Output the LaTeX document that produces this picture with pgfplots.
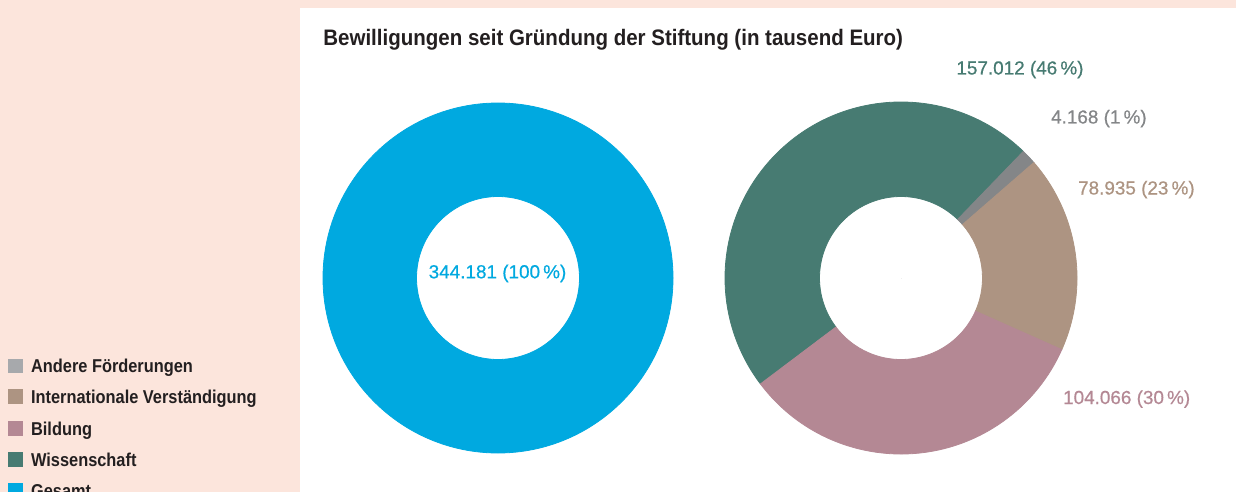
\documentclass[border=0pt]{standalone}
\usepackage{pgfplots}
\pgfplotsset{compat=1.18}
\usepackage{pgfplotstable}
\usepackage{fontspec}
\setmainfont{Liberation Sans}
\newfontfamily\titlefont[FakeStretch=0.915]{Liberation Sans}
\newfontfamily\legfont[FakeStretch=0.88]{Liberation Sans}
\newfontfamily\labfont[FakeBold=0.5]{Liberation Sans}
\definecolor{peach}{HTML}{FCE5DC}
\definecolor{gesamt}{HTML}{00A9E0}
\definecolor{wiss}{HTML}{477B72}
\definecolor{bild}{HTML}{B48894}
\definecolor{intl}{HTML}{AD9482}
\definecolor{andere}{HTML}{848688}
\definecolor{anderelg}{HTML}{A7A9AC}
\definecolor{txt}{HTML}{231F20}

% x y: pixel position of the donut centre; start/end: angles as drawn;
% value: thousand euro; c: colour index (0 Gesamt, 1 Wissenschaft, 2 Andere, 3 Internationale, 4 Bildung)
\pgfplotstableread{
x y start end value c
498 278 0 360 344181 0
}\leftdonut
\pgfplotstableread{
x y start end value c
901 278 46 217 157012 1
901 278 41 46 4168 2
901 278 -24 41 78935 3
901 278 217 336 104066 4
}\rightdonut

\pgfplotsset{donut/.style={
  scatter, only marks, mark=*, mark size=0pt,
  mark options={draw=none,fill=none},
  visualization depends on={\thisrow{start} \as \sa},
  visualization depends on={\thisrow{end} \as \ea},
  visualization depends on={\thisrow{c} \as \ci},
  scatter/@pre marker code/.code={%
    \pgfmathtruncatemacro\cii{\ci}%
    \ifcase\cii \def\sc{gesamt}\or \def\sc{wiss}\or \def\sc{andere}\or \def\sc{intl}\or \def\sc{bild}\fi
    \fill[\sc] (\sa:#1) arc[start angle=\sa, end angle=\ea, radius=#1]
      -- (\ea:40.75pt) arc[start angle=\ea, end angle=\sa, radius=40.75pt] -- cycle;},
  scatter/@post marker code/.code={},
}}
\newcommand\legrow[3]{%
  \fill[#2] (axis cs:8,#3-14) rectangle (axis cs:22.5,#3+0.5);
  \node[anchor=base west, inner sep=0, text=txt, font=\legfont\bfseries\fontsize{9.3}{11}\selectfont] at (axis cs:30.7,#3) {#1};
}
\tikzset{lab/.style={anchor=base west, inner sep=0, font=\labfont\fontsize{9.45}{11}\selectfont}}

\begin{document}
\begin{tikzpicture}
\begin{axis}[
  at={(0,0)}, anchor=south west,
  width=618pt, height=246pt, scale only axis,
  xmin=0, xmax=1236, ymin=0, ymax=492, y dir=reverse,
  hide axis, clip=false,
]
\fill[peach] (axis cs:0,0) rectangle (axis cs:1236,492);
\fill[white] (axis cs:300,8) rectangle (axis cs:1236,492);

\addplot[donut=87.5pt] table[x=x, y=y] \leftdonut;
\addplot[donut=88pt] table[x=x, y=y] \rightdonut;

\node[anchor=base west, inner sep=0, text=txt, font=\titlefont\bfseries\fontsize{11.2}{13}\selectfont]
  at (axis cs:323,46) {Bewilligungen seit Gründung der Stiftung (in tausend Euro)};

\node[lab, text=gesamt] at (axis cs:428.3,278.3) {344.181 (100\,\%)};
\node[lab, text=wiss] at (axis cs:956,74.5) {157.012 (46\,\%)};
\node[lab, text=andere] at (axis cs:1050.7,123.5) {4.168 (1\,\%)};
\node[lab, text=intl] at (axis cs:1077.7,194.5) {78.935 (23\,\%)};
\node[lab, text=bild] at (axis cs:1062.7,404) {104.066 (30\,\%)};

\legrow{Andere Förderungen}{anderelg}{372.7}
\legrow{Internationale Verständigung}{intl}{403.3}
\legrow{Bildung}{bild}{435}
\legrow{Wissenschaft}{wiss}{466}
\legrow{Gesamt}{gesamt}{497}
\end{axis}
\pgfresetboundingbox
\useasboundingbox (0,0) rectangle (618pt,246pt);
\end{tikzpicture}
\end{document}
